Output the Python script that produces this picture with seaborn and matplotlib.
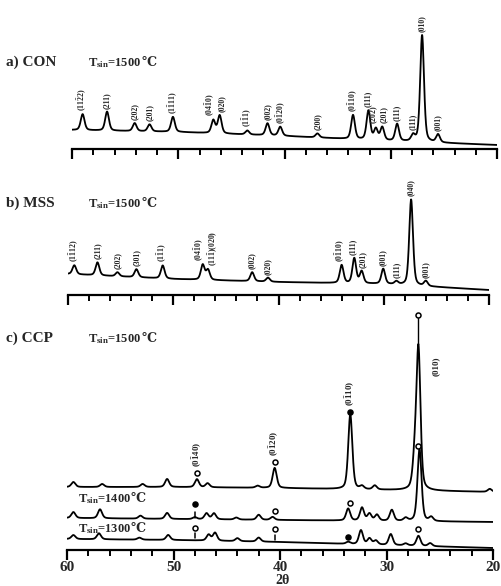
import numpy as np
import pandas as pd
import matplotlib
matplotlib.use("Agg")
import matplotlib.pyplot as plt
import seaborn as sns

# ---------------- data ----------------
# Background anchors (2theta, intensity above the axis line)
bg_theta = [60, 50, 40, 30, 20]

# a) CON, T_sin = 1500 C
a_bg = [19, 17, 13, 8, 4]
a_pos = [59.0, 56.7, 54.1, 52.7, 50.5, 46.7, 46.1, 43.5, 41.6, 40.4, 36.9,
         33.55, 32.1, 31.4, 30.8, 29.4, 27.9, 27.05, 25.55]
a_height = [16, 19, 8, 7, 15, 13, 18, 4, 12, 9, 4, 24, 29, 11, 13, 17, 6, 107, 8]
a_label_pos = [59.0, 56.7, 54.1, 52.7, 50.5, 46.95, 45.9, 43.5, 41.6, 40.3, 36.9,
               33.55, 32.2, 31.55, 30.65, 29.4, 27.9, 27.05, 25.55]
a_labels = [r"(11$\bar{2}$2)", "(211)", "(202)", "(201)", r"(1$\bar{1}$11)",
            r"(04$\bar{1}$0)", "(020)", r"(1$\bar{1}$1)", "(002)", r"(0$\bar{1}$20)",
            "(200)", r"(0$\bar{1}$10)", "(111)", r"(20$\bar{2}$)", "(201)", "(111)",
            "(111)", "(010)", "(001)"]

# b) MSS, T_sin = 1500 C
b_bg = [21, 16, 13, 11, 5]
b_pos = [59.4, 57.2, 55.3, 53.5, 51.0, 47.2, 46.7, 42.5, 41.0, 34.0, 32.8,
         32.1, 30.05, 28.8, 27.4, 26.0]
b_height = [9, 13, 4, 8, 13, 15, 10, 9, 4, 18, 25, 12, 15, 3, 86, 5]
b_label_pos = [59.4, 57.2, 55.3, 53.5, 51.0, 47.5, 46.2, 42.5, 41.0, 34.1, 32.9,
               31.95, 30.05, 28.8, 27.4, 26.0]
b_labels = [r"(1$\bar{1}$12)", "(211)", "(202)", "(301)", r"(1$\bar{1}$1)",
            r"(04$\bar{1}$0)", r"(11$\bar{1}$)(020)", "(002)", "(020)",
            r"(0$\bar{1}$10)", "(111)", "(201)", "(001)", "(111)", "(040)", "(001)"]

# c) CCP at three sintering temperatures
c1500_bg = [63, 63, 62, 60, 58]
c1500_pos = [59.4, 56.7, 52.9, 50.6, 47.8, 46.8, 42.1, 40.5, 33.4, 32.3, 31.1,
             27.35, 27.0, 20.3]
c1500_height = [5, 3, 3, 8, 8, 4, 2, 20, 75, 3, 4, 28, 140, 3]

c1400_bg = [32, 31, 30, 29, 28]
c1400_pos = [59.4, 56.9, 53.1, 50.6, 48.0, 46.9, 46.2, 44.1, 42.0, 40.7, 33.6,
             32.3, 31.6, 30.9, 29.5, 28.2, 26.9, 25.8]
c1400_height = [6, 9, 3, 6, 2, 6, 6, 2, 5, 3, 12, 13, 7, 6, 11, 3, 72, 4]

c1300_bg = [11, 10, 8, 5, 2]
c1300_pos = [59.4, 57.0, 53.2, 50.5, 46.7, 46.1, 44.0, 42.0, 33.6, 32.4, 31.6,
             31.0, 29.6, 28.2, 27.0, 25.9]
c1300_height = [4, 6, 2, 5, 6, 8, 3, 4, 2, 14, 6, 4, 11, 2, 10, 3]

# Phase markers in panel c: (2theta, height, filled)
c1500_marks = [(47.8, 77, False), (40.5, 88, False), (33.4, 138, True), (27.0, 235, False)]
c1400_marks = [(48.0, 46, True), (40.5, 39, False), (33.4, 47, False), (27.0, 104, False)]
c1300_marks = [(48.0, 22, False), (40.5, 21, False), (33.6, 13, True), (27.0, 21, False)]
c_hkl = [(47.8, r"(0$\bar{1}$40)"), (40.5, r"(0$\bar{1}$20)"), (33.4, r"(0$\bar{1}$10)")]

x_ticks = [60, 50, 40, 30, 20]

# ---------------- style ----------------
sns.set_style("white")
plt.rcParams["font.family"] = ["Liberation Serif", "DejaVu Serif"]
plt.rcParams["font.weight"] = "bold"
plt.rcParams["mathtext.fontset"] = "custom"
plt.rcParams["mathtext.rm"] = "Liberation Serif:bold"
plt.rcParams["mathtext.bf"] = "Liberation Serif:bold"
plt.rcParams["mathtext.default"] = "rm"

W, H = 501, 586
fig = plt.figure(figsize=(W / 100, H / 100), dpi=100)

grid = np.arange(60.0, 19.99, -0.02)


def pattern(bg, pos, height, width=0.42):
    y = np.interp(grid[::-1], bg_theta[::-1], bg[::-1])[::-1].copy()
    for p, h in zip(pos, height):
        u = (grid - p) / width
        y += h * 0.6 * np.exp(-4 * np.log(2) * u ** 2) + h * 0.4 / (1 + 4 * u ** 2)
    return y


def make_axes(x0, x1, ytop, ybot):
    ax = fig.add_axes([x0 / W, 1 - ybot / H, (x1 - x0) / W, (ybot - ytop) / H])
    ax.patch.set_alpha(0)
    ax.set_xlim(60, 20)
    ax.set_ylim(0, ybot - ytop)
    for s in ("top", "left", "right"):
        ax.spines[s].set_visible(False)
    ax.spines["bottom"].set_linewidth(1.6)
    ax.spines["bottom"].set_color("black")
    ax.set_yticks([])
    ax.set_xticks(x_ticks)
    ax.set_xticks(np.arange(20, 61, 2), minor=True)
    ax.tick_params(axis="x", which="major", direction="out", length=7, width=1.6,
                   color="black", bottom=True)
    ax.tick_params(axis="x", which="minor", direction="out", length=4, width=1.4,
                   color="black", bottom=True)
    return ax


def draw(ax, y):
    df = pd.DataFrame({"two_theta": grid, "intensity": y})
    sns.lineplot(data=df, x="two_theta", y="intensity", ax=ax, color="black",
                 linewidth=1.3, estimator=None, sort=False)
    ax.set_xlabel("")
    ax.set_ylabel("")


def label_peaks(ax, y, pos, label_pos, labels):
    for p, lp, lab in zip(pos, label_pos, labels):
        top = np.interp(p, grid[::-1], y[::-1])
        ax.text(lp, top + 3, lab, rotation=90, ha="center", va="bottom",
                fontsize=5.6, fontweight="bold", clip_on=False)


def temp_label(x, y, value, size, transform):
    """T_sin=...℃ : the degree sign is set as plain text after the math part."""
    t = fig.text(x, y, r"T$_{\rm sin}$=" + value, ha="left", va="baseline",
                 fontsize=size, fontweight="bold", transform=transform)
    fig.add_artist(plt.matplotlib.text.Annotation(
        "℃", xy=(1, 1), xycoords=t, xytext=(0, 0), textcoords="offset points",
        ha="left", va="top", fontsize=size, fontweight="bold",
        family=["DejaVu Serif"], annotation_clip=False))
    return t


# ---- panel a ----
ax_a = make_axes(72, 497, 0, 149)
ya = pattern(a_bg, a_pos, a_height)
draw(ax_a, ya)
label_peaks(ax_a, ya, a_pos, a_label_pos, a_labels)
ax_a.set_xticklabels([])

# ---- panel b ----
ax_b = make_axes(68, 489, 150, 295)
yb = pattern(b_bg, b_pos, b_height)
draw(ax_b, yb)
label_peaks(ax_b, yb, b_pos, b_label_pos, b_labels)
ax_b.set_xticklabels([])

# ---- panel c ----
ax_c = make_axes(67, 493, 300, 550)
y15 = pattern(c1500_bg, c1500_pos, c1500_height, width=0.45)
y14 = pattern(c1400_bg, c1400_pos, c1400_height, width=0.45)
y13 = pattern(c1300_bg, c1300_pos, c1300_height, width=0.45)
for yy in (y15, y14, y13):
    draw(ax_c, yy)
ax_c.set_xticks(x_ticks)
ax_c.set_xticklabels([str(t) for t in x_ticks], fontsize=11, fontweight="bold")
ax_c.tick_params(axis="x", which="major", pad=1)

# guide line from the strongest reflection up to its marker
top15 = np.interp(27.0, grid[::-1], y15[::-1])
ax_c.plot([27.0, 27.0], [top15, 232], color="black", lw=1.0)

for marks in (c1500_marks, c1400_marks, c1300_marks):
    for p, h, filled in marks:
        ax_c.plot(p, h, marker="o", ms=3.6, mew=1.1, mec="black",
                  mfc="black" if filled else "white", clip_on=False, zorder=5)
# short stems under some markers
for p, y0, y1 in [(48.0, 32, 38), (48.0, 12, 17), (40.5, 10, 15)]:
    ax_c.plot([p, p], [y0, y1], color="black", lw=1.1)

for p, lab in c_hkl:
    mark_h = [h for q, h, _ in c1500_marks if q == p][0]
    ax_c.text(p, mark_h + 6, lab, rotation=90, ha="center", va="bottom",
              fontsize=6.5, fontweight="bold")
ax_c.text(25.35, 184, "(010)", rotation=90, ha="center", va="center",
          fontsize=6.5, fontweight="bold")

temp_label(59.0, 48, "1400", 9, ax_c.transData)
temp_label(59.0, 18, "1300", 9, ax_c.transData)

# x axis title
fig.text(283 / W, 1 - 580 / H, "2θ", ha="center", va="center",
         fontsize=10, fontweight="bold")

# panel titles
for ytxt, name in [(66, "a) CON"), (207, "b) MSS"), (342, "c) CCP")]:
    fig.text(6 / W, 1 - ytxt / H, name, ha="left", va="baseline", fontsize=11,
             fontweight="bold")
    temp_label(88 / W, 1 - ytxt / H, "1500", 9, fig.transFigure)

fig.savefig("out.png", dpi=100, facecolor="white")
